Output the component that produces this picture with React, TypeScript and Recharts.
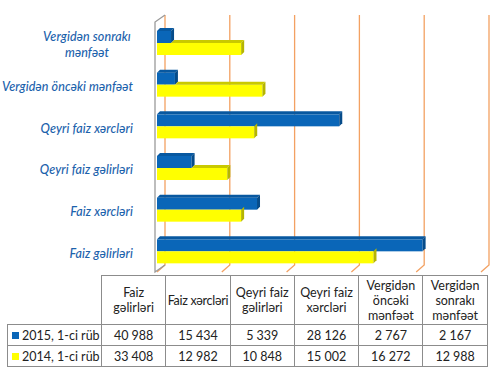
import React from 'react';
import { BarChart, Bar, XAxis, YAxis, CartesianGrid } from 'recharts';

const categories = [
  'Faiz gəlirləri',
  'Faiz xərcləri',
  'Qeyri faiz gəlirləri',
  'Qeyri faiz xərcləri',
  'Vergidən öncəki mənfəət',
  'Vergidən sonrakı mənfəət',
];
const axisLabels = [
  'Faiz gəlirləri',
  'Faiz xərcləri',
  'Qeyri faiz gəlirləri',
  'Qeyri faiz xərcləri',
  'Vergidən öncəki mənfəət',
  'Vergidən sonrakı\nmənfəət',
];
const tableHeaders = [
  'Faiz\ngəlirləri',
  'Faiz xərcləri',
  'Qeyri faiz\ngəlirləri',
  'Qeyri faiz\nxərcləri',
  'Vergidən\nöncəki\nmənfəət',
  'Vergidən\nsonrakı\nmənfəət',
];
const values2015 = [40988, 15434, 5339, 28126, 2767, 2167];
const values2014 = [33408, 12982, 10848, 15002, 16272, 12988];
const seriesNames = ['2015, 1-ci rüb', '2014, 1-ci rüb'];
const xTicks = [0, 10000, 20000, 30000, 40000, 50000];

const BLUE = '#0A66B8';
const BLUE_TOP = '#0858A0';
const BLUE_SIDE = '#064C8A';
const YEL = '#FFFF00';
const YEL_TOP = '#C9C900';
const YEL_SIDE = '#B5B500';
const LABEL_BLUE = '#1C62AC';
const GRID = '#F3A162';

const data = categories.map((c, i) => ({
  name: c,
  label: axisLabels[i],
  v2015: values2015[i],
  v2014: values2014[i],
}));

const fmt = (v: number) => String(v).replace(/\B(?=(\d{3})+(?!\d))/g, ' ');

const D = 3;

const BlueShape = (p: any) => {
  const { x, y, width: w, height: h } = p;
  if (w == null) return null;
  return (
    <g>
      <rect x={x} y={y} width={w} height={h} fill={BLUE} />
      <polygon points={`${x},${y} ${x + D},${y - D} ${x + w + D},${y - D} ${x + w},${y}`} fill={BLUE_TOP} />
      <polygon points={`${x + w},${y} ${x + w + D},${y - D} ${x + w + D},${y + h - D} ${x + w},${y + h}`} fill={BLUE_SIDE} />
    </g>
  );
};

const YellowShape = (p: any) => {
  const { x, y, width: w, height: h, payload } = p;
  if (w == null) return null;
  const bw = (w * payload.v2015) / payload.v2014;
  return (
    <g>
      <rect x={x} y={y} width={w} height={h} fill={YEL} />
      {w > bw && (
        <polygon points={`${x + bw},${y} ${x + bw + D},${y - D} ${x + w + D},${y - D} ${x + w},${y}`} fill={YEL_TOP} />
      )}
      <polygon points={`${x + w},${y} ${x + w + D},${y - D} ${x + w + D},${y + h - D} ${x + w},${y + h}`} fill={YEL_SIDE} />
    </g>
  );
};

const GridLine = (p: any) => {
  const { x1, y1, y2, index } = p;
  const dx = 8;
  const dy = 7;
  return (
    <g key={`g-${index}`}>
      <path d={`M${x1 + dx},${y1 - dy} L${x1 + dx},${y2 - dy} L${x1},${y2}`} stroke={GRID} strokeWidth={1.3} fill="none" />
      {index === 0 && (
        <path
          d={`M${x1 + dx},${y1 - dy} L${x1 - 2},${y1} L${x1 - 2},${y2} L${x1 + dx},${y2 - dy}`}
          stroke="#9A9A9A"
          strokeWidth={1.3}
          fill="none"
        />
      )}
    </g>
  );
};

const AxisTick = (p: any) => {
  const { x, y, payload } = p;
  const idx = categories.indexOf(payload.value);
  const lines = (idx >= 0 ? axisLabels[idx] : String(payload.value)).split('\n');
  const style = {
    fontFamily: 'Lato, "Liberation Sans", sans-serif',
    fontStyle: 'italic' as const,
    fontWeight: 500,
    fontSize: 12.5,
    fill: LABEL_BLUE,
    letterSpacing: 0.1,
  };
  if (lines.length === 1) {
    return (
      <text x={x - 16} y={y + 2} textAnchor="end" dominantBaseline="central" style={style}>
        {lines[0]}
      </text>
    );
  }
  return (
    <g>
      {lines.map((l: string, i: number) => (
        <text key={i} x={x - 62} y={y - 6 + i * 16} textAnchor="middle" dominantBaseline="central" style={style}>
          {l}
        </text>
      ))}
    </g>
  );
};

const cellBase: React.CSSProperties = {
  border: '1px solid #8C8C8C',
  padding: 0,
  textAlign: 'center',
  verticalAlign: 'middle',
  whiteSpace: 'pre',
  overflow: 'visible',
};

export default function App() {
  const seriesVals = [values2015, values2014];
  const seriesColors = [BLUE, YEL];
  return (
    <div style={{ position: 'absolute', left: 0, top: 0, width: 497, height: 378, background: '#fff' }}>
      <BarChart
        width={497}
        height={378}
        data={data}
        layout="vertical"
        margin={{ top: 22, right: 16, bottom: 106, left: 0 }}
        barGap={0}
        barSize={12}
      >
        <CartesianGrid horizontal={false} vertical={GridLine} stroke={GRID} />
        <XAxis type="number" domain={[0, 50000]} ticks={xTicks} hide />
        <YAxis
          type="category"
          dataKey="name"
          reversed
          width={157}
          axisLine={false}
          tickLine={false}
          tick={<AxisTick />}
          interval={0}
        />
        <Bar dataKey="v2015" name={seriesNames[0]} fill={BLUE} shape={<BlueShape />} isAnimationActive={false} />
        <Bar dataKey="v2014" name={seriesNames[1]} fill={YEL} shape={<YellowShape />} isAnimationActive={false} />
      </BarChart>
      <table
        style={{
          position: 'absolute',
          left: 7,
          top: 275,
          borderCollapse: 'collapse',
          fontFamily: 'Lato, "Liberation Sans", sans-serif',
          fontSize: 12.5,
          color: '#222',
          tableLayout: 'fixed',
          width: 480,
        }}
      >
        <colgroup>
          <col style={{ width: 94 }} />
          {tableHeaders.map((_, i) => (
            <col key={i} style={{ width: 64.3 }} />
          ))}
        </colgroup>
        <tbody>
          <tr style={{ height: 49 }}>
            <td style={{ border: 'none' }} />
            {tableHeaders.map((h, i) => (
              <td key={i} style={{ ...cellBase, lineHeight: '15px', letterSpacing: h.includes('\n') ? 0 : -0.3 }}>
                {h}
              </td>
            ))}
          </tr>
          {seriesNames.map((s, si) => (
            <tr key={s} style={{ height: 21 }}>
              <td style={{ ...cellBase, textAlign: 'left', paddingLeft: 4, whiteSpace: 'nowrap' }}>
                <span
                  style={{
                    display: 'inline-block',
                    width: 7,
                    height: 7,
                    background: seriesColors[si],
                    marginRight: 3,
                    verticalAlign: 'middle',
                    position: 'relative',
                    top: -1,
                  }}
                />
                {s}
              </td>
              {seriesVals[si].map((v, i) => (
                <td key={i} style={cellBase}>
                  {fmt(v)}
                </td>
              ))}
            </tr>
          ))}
        </tbody>
      </table>
    </div>
  );
}
